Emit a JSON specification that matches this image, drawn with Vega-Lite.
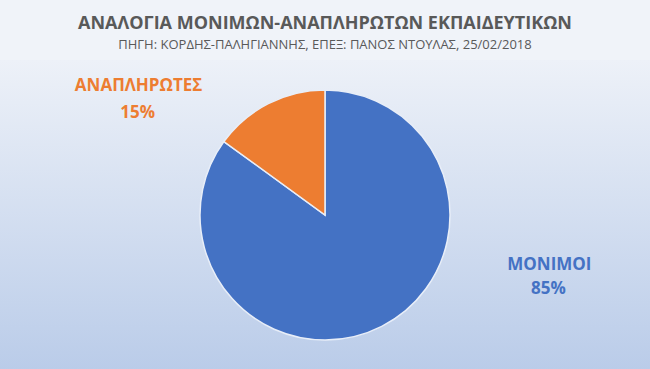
{
  "$schema": "https://vega.github.io/schema/vega-lite/v6.json",
  "width": 650,
  "height": 310,
  "autosize": "pad",
  "padding": {"top": 15, "left": 0, "right": 0, "bottom": 0},
  "background": "#f0f3f9",
  "title": {
    "text": "ΑΝΑΛΟΓΙΑ ΜΟΝΙΜΩΝ-ΑΝΑΠΛΗΡΩΤΩΝ  ΕΚΠΑΙΔΕΥΤΙΚΩΝ",
    "subtitle": "ΠΗΓΗ: ΚΟΡΔΗΣ-ΠΑΛΗΓΙΑΝΝΗΣ, ΕΠΕΞ: ΠΑΝΟΣ ΝΤΟΥΛΑΣ, 25/02/2018",
    "anchor": "middle",
    "frame": "group",
    "font": "Open Sans",
    "fontSize": 18,
    "fontWeight": "bold",
    "color": "#595959",
    "subtitleFont": "Open Sans",
    "subtitleFontSize": 13,
    "subtitleColor": "#595959",
    "subtitlePadding": 6,
    "offset": 8
  },
  "config": {
    "view": {"stroke": null},
    "text": {"font": "Open Sans", "fontWeight": "bold", "fontSize": 17, "align": "center", "baseline": "middle"}
  },
  "data": {
    "values": [
      {"cat": "ΜΟΝΙΜΟΙ", "value": 0.85},
      {"cat": "ΑΝΑΠΛΗΡΩΤΕΣ", "value": 0.15}
    ]
  },
  "layer": [
    {
      "mark": {
        "type": "rect",
        "color": {
          "gradient": "linear",
          "x1": 0, "y1": 0, "x2": 0, "y2": 1,
          "stops": [
            {"offset": 0, "color": "#edf1f8"},
            {"offset": 1, "color": "#bacce9"}
          ]
        }
      },
      "encoding": {}
    },
    {
      "mark": {"type": "arc", "outerRadius": 125, "stroke": "#e8eef8", "strokeWidth": 1.5},
      "encoding": {
        "theta": {"field": "value", "type": "quantitative", "stack": true},
        "order": {"field": "value", "type": "quantitative", "sort": "descending"},
        "color": {
          "field": "cat",
          "type": "nominal",
          "scale": {"domain": ["ΜΟΝΙΜΟΙ", "ΑΝΑΠΛΗΡΩΤΕΣ"], "range": ["#4472c4", "#ed7d31"]},
          "legend": null
        }
      }
    },
    {
      "mark": {"type": "text", "radius": 100, "dx": 179, "dy": -39},
      "encoding": {
        "theta": {"field": "value", "type": "quantitative", "stack": true},
        "order": {"field": "value", "type": "quantitative", "sort": "descending"},
        "color": {"field": "cat", "type": "nominal", "legend": null},
        "text": {"condition": {"test": "datum.cat === 'ΜΟΝΙΜΟΙ'", "field": "cat"}, "value": ""}
      }
    },
    {
      "mark": {"type": "text", "radius": 100, "dx": 178, "dy": -15},
      "encoding": {
        "theta": {"field": "value", "type": "quantitative", "stack": true},
        "order": {"field": "value", "type": "quantitative", "sort": "descending"},
        "color": {"field": "cat", "type": "nominal", "legend": null},
        "text": {"condition": {"test": "datum.cat === 'ΜΟΝΙΜΟΙ'", "field": "value", "format": ".0%"}, "value": ""}
      }
    },
    {
      "mark": {"type": "text", "radius": 100, "dx": -141, "dy": -40},
      "encoding": {
        "theta": {"field": "value", "type": "quantitative", "stack": true},
        "order": {"field": "value", "type": "quantitative", "sort": "descending"},
        "color": {"field": "cat", "type": "nominal", "legend": null},
        "text": {"condition": {"test": "datum.cat === 'ΑΝΑΠΛΗΡΩΤΕΣ'", "field": "cat"}, "value": ""}
      }
    },
    {
      "mark": {"type": "text", "radius": 100, "dx": -142, "dy": -13},
      "encoding": {
        "theta": {"field": "value", "type": "quantitative", "stack": true},
        "order": {"field": "value", "type": "quantitative", "sort": "descending"},
        "color": {"field": "cat", "type": "nominal", "legend": null},
        "text": {"condition": {"test": "datum.cat === 'ΑΝΑΠΛΗΡΩΤΕΣ'", "field": "value", "format": ".0%"}, "value": ""}
      }
    }
  ]
}
